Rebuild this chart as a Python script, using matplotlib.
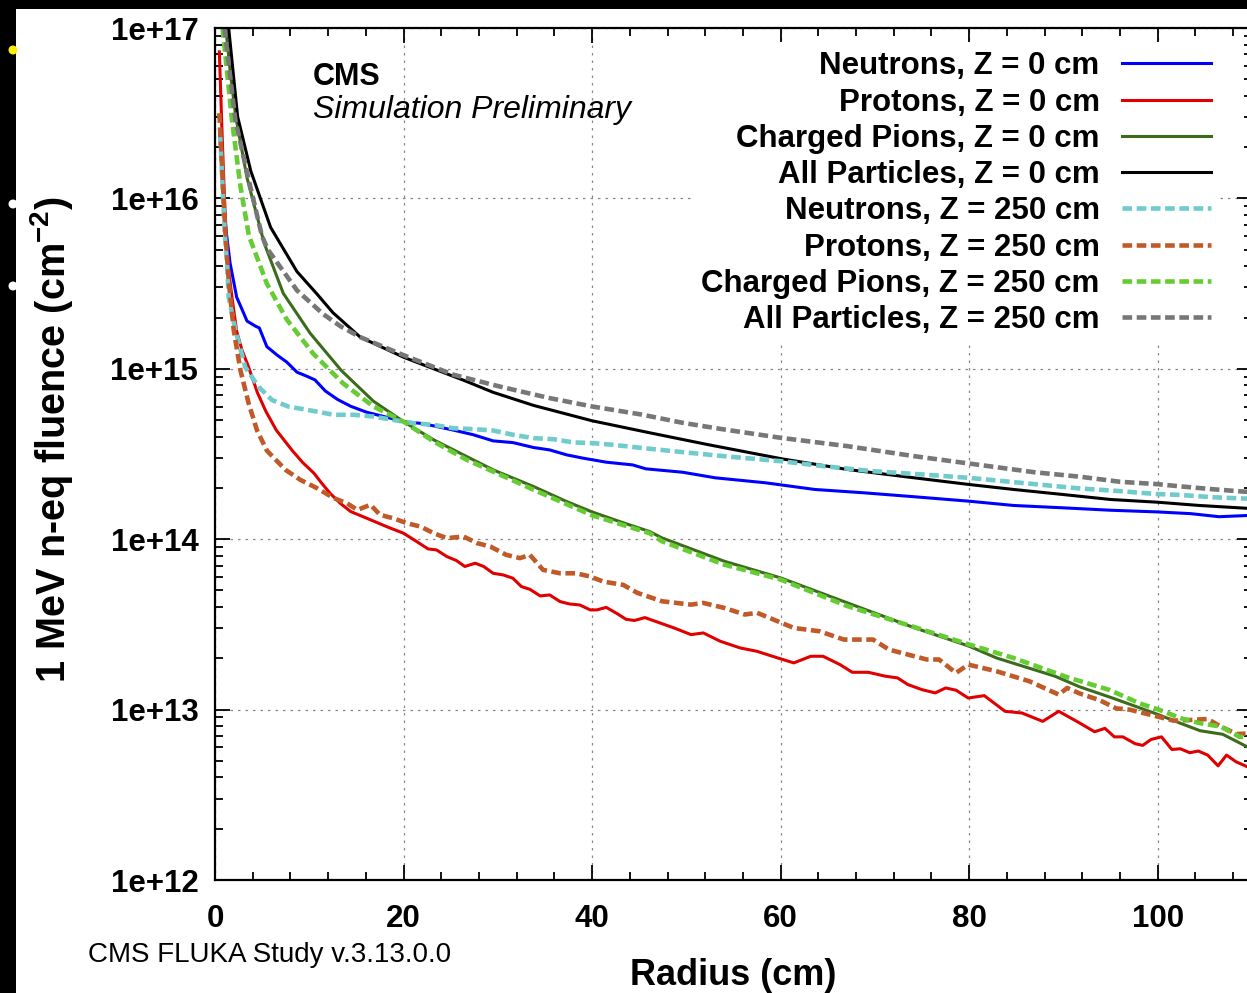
import numpy as np
import matplotlib
matplotlib.use('Agg')
import matplotlib.pyplot as plt
from matplotlib.patches import Rectangle, Ellipse
from matplotlib.ticker import MultipleLocator, LogLocator, NullFormatter

plt.rcParams['font.family'] = ['Liberation Sans', 'DejaVu Sans']
plt.rcParams['mathtext.fontset'] = 'custom'
plt.rcParams['mathtext.rm'] = 'Liberation Sans'
plt.rcParams['mathtext.bf'] = 'Liberation Sans:bold'

# radius (cm) and log10 of the 1 MeV n-eq fluence (cm^-2)
r_n0 = [0.5, 0.8, 1.0, 1.2, 1.6, 2.3, 2.7, 3.4, 3.7, 4.3, 4.7, 5.5, 6.6, 7.6, 8.7, 9.8, 10.6, 11.7, 13.0, 14.4,
        16.1, 17.9, 20.0, 21.8, 23.2, 25.3, 27.4, 29.5, 31.6, 33.8, 35.5, 37.3, 39.0, 41.5, 44.3, 45.7, 49.6, 53.1,
        58.4, 63.6, 68.9, 74.2, 80.0, 84.7, 90.0, 95.0, 100.0, 103.5, 106.5, 109.9]
lg_n0 = [16.40, 16.10, 15.95, 15.80, 15.62, 15.42, 15.37, 15.28, 15.27, 15.25, 15.24, 15.13, 15.08, 15.04, 14.98,
         14.955, 14.935, 14.87, 14.82, 14.78, 14.745, 14.72, 14.69, 14.68, 14.665, 14.64, 14.613, 14.577, 14.567,
         14.538, 14.524, 14.495, 14.476, 14.452, 14.436, 14.413, 14.393, 14.36, 14.331, 14.292, 14.272, 14.249,
         14.223, 14.198, 14.184, 14.17, 14.16, 14.15, 14.132, 14.14]

r_p0 = [0.46, 0.8, 1.17, 1.4, 1.8, 2.3, 2.86, 3.5, 4.5, 5.4, 6.5, 8.2, 9.3, 10.5, 11.3, 12.2, 13.3, 14.4, 16.1, 18.2,
        20.0, 21.4, 22.6, 23.5, 24.6, 25.6, 26.5, 27.6, 28.5, 29.5, 30.6, 31.6, 32.5, 33.4, 34.5, 35.5, 36.6, 37.6,
        38.7, 39.8, 40.5, 41.5, 42.6, 43.6, 44.5, 45.6, 48.7, 50.5, 51.8, 53.6, 55.7, 57.5, 59.7, 61.4, 63.2, 64.5,
        66.3, 67.6, 69.3, 71.1, 72.4, 73.5, 75.0, 76.4, 77.5, 78.6, 79.9, 81.6, 83.8, 85.6, 87.8, 89.5, 91.7, 93.3,
        94.4, 95.4, 96.3, 97.6, 98.4, 99.3, 100.4, 101.5, 102.4, 103.4, 104.3, 105.3, 106.4, 107.3, 108.3, 109.9]
lg_p0 = [16.86, 16.30, 15.76, 15.60, 15.42, 15.22, 15.11, 15.02, 14.86, 14.75, 14.64, 14.52, 14.45, 14.387, 14.33,
         14.27, 14.21, 14.162, 14.123, 14.074, 14.035, 13.986, 13.943, 13.937, 13.898, 13.875, 13.84, 13.859, 13.84,
         13.80, 13.79, 13.771, 13.722, 13.706, 13.667, 13.673, 13.634, 13.62, 13.614, 13.585, 13.585, 13.60, 13.565,
         13.53, 13.523, 13.54, 13.479, 13.44, 13.45, 13.401, 13.362, 13.342, 13.303, 13.274, 13.313, 13.313, 13.264,
         13.219, 13.219, 13.196, 13.186, 13.147, 13.117, 13.098, 13.127, 13.114, 13.068, 13.082, 12.99, 12.98,
         12.931, 12.99, 12.922, 12.87, 12.89, 12.84, 12.84, 12.80, 12.79, 12.825, 12.84, 12.766, 12.77, 12.747,
         12.757, 12.733, 12.67, 12.733, 12.694, 12.655]

r_pi0 = [1.15, 1.6, 2.2, 3.4, 5.2, 7.24, 10.1, 13.4, 16.8, 20.0, 23.2, 26.7, 29.5, 33.8, 37.3, 40.0, 42.9, 46.1,
         47.4, 54.0, 60.0, 67.1, 74.2, 80.0, 82.9, 89.1, 91.7, 95.3, 99.9, 102.4, 104.5, 106.9, 109.9]
lg_pi0 = [17.0, 16.75, 16.48, 16.12, 15.74, 15.443, 15.208, 14.99, 14.81, 14.69, 14.583, 14.485, 14.407, 14.309,
          14.221, 14.16, 14.104, 14.045, 14.008, 13.871, 13.773, 13.626, 13.48, 13.372, 13.303, 13.196, 13.134,
          13.066, 12.974, 12.92, 12.876, 12.855, 12.77]

r_a0 = [1.45, 2.4, 3.8, 5.9, 7.3, 8.7, 10.8, 12.5, 15.4, 20.0, 23.2, 26.5, 29.5, 33.8, 40.0, 45.8, 52.2, 60.1,
        67.1, 74.2, 80.0, 84.7, 90.0, 95.0, 100.0, 104.4, 109.9]
lg_a0 = [17.0, 16.48, 16.16, 15.83, 15.70, 15.57, 15.44, 15.33, 15.186, 15.068, 15.0, 14.93, 14.862, 14.785,
         14.695, 14.628, 14.556, 14.472, 14.409, 14.36, 14.321, 14.292, 14.262, 14.233, 14.217, 14.198, 14.18]

r_n250 = [0.56, 1.03, 1.3, 1.45, 2.16, 3.2, 4.63, 6.04, 7.8, 9.9, 12.6, 14.7, 16.8, 18.9, 21.1, 23.2, 25.3, 27.4,
          29.5, 31.6, 33.8, 35.9, 38.0, 40.0, 42.2, 45.2, 49.6, 54.0, 60.0, 64.5, 69.8, 75.0, 80.0, 84.7, 91.7,
          96.0, 99.9, 102.4, 105.9, 109.9]
lg_n250 = [16.36, 15.80, 15.60, 15.42, 15.23, 15.01, 14.894, 14.817, 14.778, 14.758, 14.73, 14.73, 14.72, 14.70,
           14.68, 14.671, 14.651, 14.646, 14.638, 14.613, 14.593, 14.587, 14.568, 14.564, 14.554, 14.536, 14.511,
           14.487, 14.458, 14.429, 14.399, 14.38, 14.36, 14.335, 14.298, 14.282, 14.265, 14.26, 14.246, 14.237]

r_p250 = [0.46, 0.85, 1.1, 1.45, 1.98, 2.69, 3.57, 4.45, 5.5, 7.48, 9.06, 10.8, 12.6, 14.0, 15.1, 16.5, 17.5, 18.9,
          20.35, 21.8, 23.2, 24.6, 26.35, 27.8, 29.2, 30.9, 32.35, 33.4, 34.8, 36.6, 38.3, 39.8, 41.2, 43.3, 44.8,
          47.4, 50.5, 51.8, 54.0, 56.2, 57.5, 60.1, 61.4, 64.1, 66.7, 69.8, 71.5, 75.5, 76.8, 78.6, 79.9, 82.9,
          86.4, 89.5, 90.4, 91.7, 93.8, 95.6, 97.0, 99.9, 101.7, 103.8, 105.3, 106.7, 108.4, 109.9]
lg_p250 = [16.5, 16.07, 15.80, 15.52, 15.23, 14.993, 14.797, 14.64, 14.52, 14.407, 14.348, 14.30, 14.241, 14.211,
           14.172, 14.202, 14.143, 14.123, 14.094, 14.074, 14.035, 14.006, 14.016, 13.977, 13.957, 13.908, 13.889,
           13.908, 13.82, 13.80, 13.80, 13.781, 13.751, 13.732, 13.685, 13.636, 13.616, 13.626, 13.597, 13.558,
           13.568, 13.509, 13.479, 13.46, 13.411, 13.411, 13.352, 13.294, 13.294, 13.215, 13.264, 13.225, 13.166,
           13.088, 13.127, 13.095, 13.056, 13.007, 13.0, 12.96, 12.935, 12.94, 12.945, 12.9, 12.857, 12.86]

r_pi250 = [0.8, 1.8, 2.7, 3.6, 5.5, 7.6, 10.4, 13.6, 16.8, 20.0, 23.2, 26.7, 29.5, 33.8, 40.0, 46.1, 47.4, 54.0,
           60.0, 67.1, 75.0, 80.0, 84.7, 90.4, 94.9, 98.1, 100.2, 102.4, 104.5, 106.7, 108.7, 109.9]
lg_pi250 = [17.0, 16.46, 16.07, 15.78, 15.50, 15.29, 15.09, 14.914, 14.779, 14.69, 14.573, 14.466, 14.397, 14.29,
            14.14, 14.035, 13.988, 13.851, 13.763, 13.607, 13.47, 13.382, 13.303, 13.19, 13.115, 13.036, 12.998,
            12.95, 12.92, 12.9, 12.84, 12.84]

r_a250 = [1.0, 2.16, 3.57, 4.98, 5.6, 8.7, 11.5, 13.3, 15.4, 20.0, 25.3, 30.2, 35.5, 40.0, 45.2, 49.6, 54.0, 60.0,
          67.1, 74.2, 80.0, 86.9, 91.7, 96.0, 100.0, 102.4, 105.9, 109.9]
lg_a250 = [17.0, 16.46, 16.11, 15.78, 15.70, 15.46, 15.32, 15.25, 15.186, 15.08, 14.965, 14.896, 14.828, 14.779,
           14.732, 14.683, 14.644, 14.595, 14.546, 14.487, 14.444, 14.393, 14.367, 14.337, 14.323, 14.31, 14.293,
           14.276]

labels = ['Neutrons, Z = 0 cm', 'Protons, Z = 0 cm', 'Charged Pions, Z = 0 cm', 'All Particles, Z = 0 cm',
          'Neutrons, Z = 250 cm', 'Protons, Z = 250 cm', 'Charged Pions, Z = 250 cm', 'All Particles, Z = 250 cm']
ytick_vals = [1e12, 1e13, 1e14, 1e15, 1e16, 1e17]
ytick_labels = ['1e+12', '1e+13', '1e+14', '1e+15', '1e+16', '1e+17']
xtick_vals = [0, 20, 40, 60, 80, 100]

series = [(r_n0, lg_n0), (r_p0, lg_p0), (r_pi0, lg_pi0), (r_a0, lg_a0),
          (r_n250, lg_n250), (r_p250, lg_p250), (r_pi250, lg_pi250), (r_a250, lg_a250)]
colors = ['#0000ff', '#e00000', '#3c6b1c', '#000000', '#70cccc', '#c05a28', '#66cc33', '#777777']

W, H = 1247, 993
fig = plt.figure(figsize=(W / 100, H / 100), dpi=100, facecolor='black')
fig.patches.append(Rectangle((16 / W, 0), 1 - 16 / W, 1 - 9 / H, transform=fig.transFigure,
                             facecolor='white', edgecolor='none', zorder=-10))
for (px, py, c) in [(13, 50, '#ffee00'), (13, 204, 'white'), (13, 286, 'white')]:
    fig.patches.append(Ellipse((px / W, 1 - py / H), 9 / W, 9 / H, transform=fig.transFigure,
                               facecolor=c, edgecolor='none'))

x0, x1, y0, y1 = 215, 1252, 28, 880
ax = fig.add_axes([x0 / W, 1 - y1 / H, (x1 - x0) / W, (y1 - y0) / H])
ax.set_facecolor('white')

for i, ((r, lg), c) in enumerate(zip(series, colors)):
    if i < 4:
        ax.plot(r, 10 ** np.array(lg), color=c, lw=2.2, label=labels[i])
    else:
        ax.plot(r, 10 ** np.array(lg), color=c, lw=3.3, dashes=(2.1, 1.0), label=labels[i])

ax.set_yscale('log')
ax.set_xlim(0, 110)
ax.set_ylim(1e12, 1e17)
ax.set_yticks(ytick_vals)
ax.set_yticklabels(ytick_labels)
ax.yaxis.set_minor_locator(LogLocator(base=10, subs=np.arange(2, 10)))
ax.yaxis.set_minor_formatter(NullFormatter())
ax.set_xticks(xtick_vals)
ax.set_xticklabels([str(v) for v in xtick_vals])
ax.xaxis.set_minor_locator(MultipleLocator(4))

ax.tick_params(which='both', direction='in', top=True, right=True, width=1.3,
               labelsize=22.5)
ax.tick_params(which='major', length=11)
ax.tick_params(which='minor', length=6)
ax.tick_params(axis='y', pad=12)
ax.tick_params(axis='x', pad=17.5)
for lab in ax.get_xticklabels() + ax.get_yticklabels():
    lab.set_fontweight('bold')
for sp in ax.spines.values():
    sp.set_linewidth(1.6)

ax.grid(which='major', color='#888888', lw=0.9, linestyle=(0, (2, 4)))

ax.set_xlabel('Radius (cm)', fontsize=26, fontweight='bold', labelpad=17)
ax.set_ylabel(r'1 MeV n-eq fluence (cm$^{\mathbf{-2}}$)', fontsize=28.5, fontweight='bold')
ax.yaxis.set_label_coords((51 - x0) / (x1 - x0), (y1 - 440) / (y1 - y0))
ax.yaxis.label.set_verticalalignment('center')

leg = ax.legend(loc='upper right', bbox_to_anchor=((1220 - x0) / (x1 - x0), (y1 - 42) / (y1 - y0)),
                markerfirst=False, frameon=True, fancybox=False, framealpha=1, edgecolor='none',
                prop={'size': 22.5, 'weight': 'bold'}, handlelength=2.85, handletextpad=0.7,
                labelspacing=0.2, borderpad=0.3, borderaxespad=0)

fig.text(313 / W, 1 - 85 / H, 'CMS', fontsize=22, fontweight='bold', va='baseline')
fig.text(313 / W, 1 - 118 / H, 'Simulation Preliminary', fontsize=23, style='italic', va='baseline')
fig.text(88 / W, 1 - 962 / H, 'CMS FLUKA Study v.3.13.0.0', fontsize=20, va='baseline')

fig.savefig('out.png', dpi=100, facecolor=fig.get_facecolor())
